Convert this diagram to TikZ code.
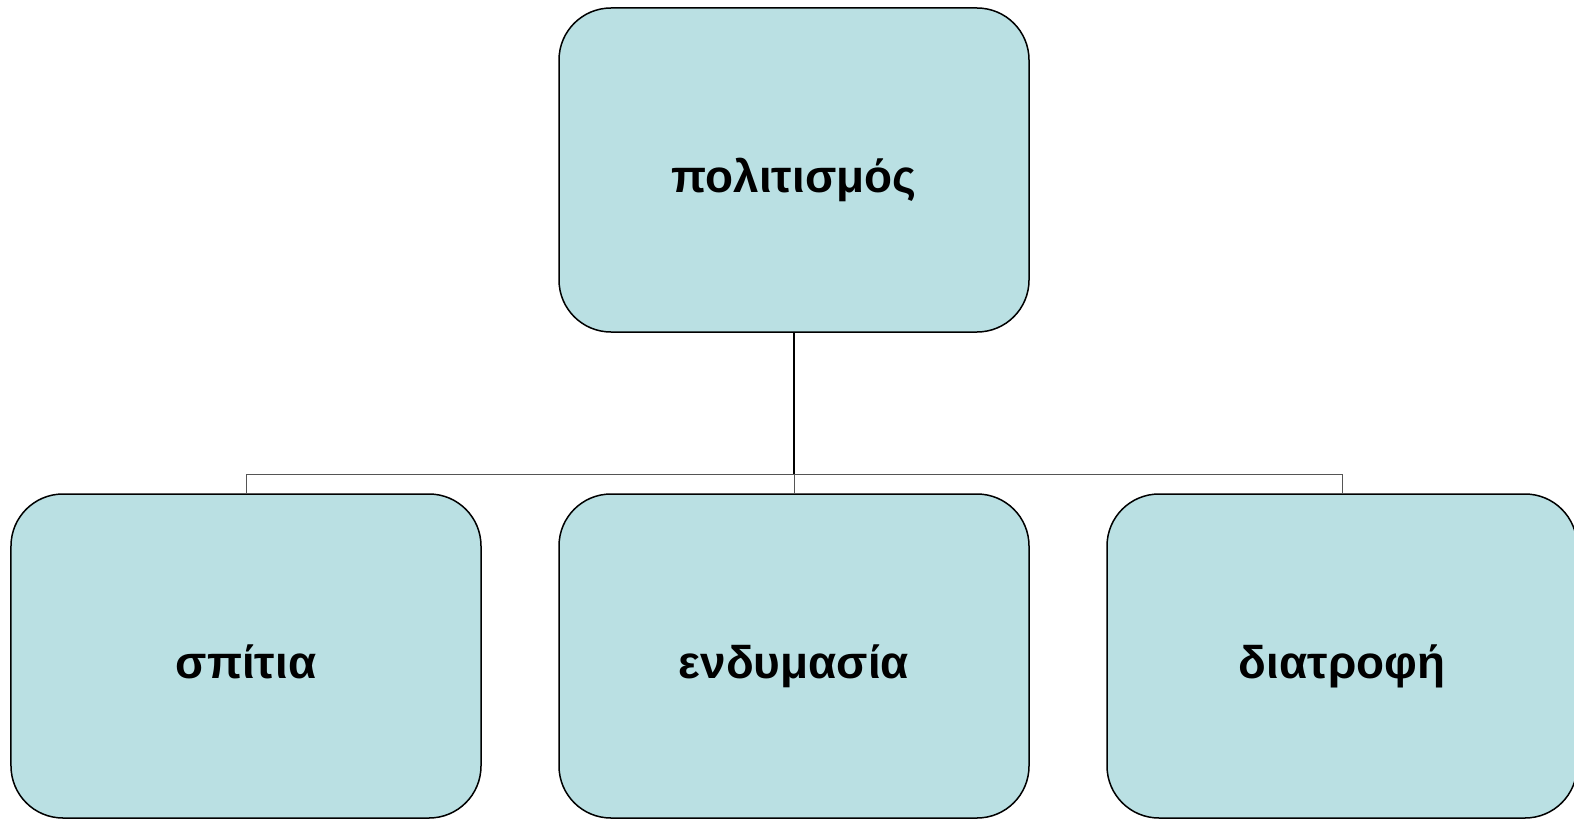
\documentclass[tikz,border=0pt]{standalone}
\usepackage{fontspec}
\setmainfont{Liberation Sans}
\definecolor{boxfill}{HTML}{BAE0E3}
\definecolor{linkgray}{HTML}{555555}
\newcommand{\cardtext}[1]{\raisebox{-22bp}[0pt][0pt]{#1}}
\begin{document}
\begin{tikzpicture}[x=1bp,y=-1bp,
  card/.style={draw=black, line width=1.5bp, fill=boxfill, rounded corners=52bp,
    minimum width=470bp, minimum height=324bp, inner sep=0pt,
    font=\fontsize{46}{50}\selectfont\bfseries, text=black},
  link/.style={draw=black, line width=1.2bp},
  thin/.style={draw=linkgray, line width=1bp}]
\useasboundingbox (0,0) rectangle (1574,819);
\node[card] (top) at (794,170) {\cardtext{πολιτισμός}};
\node[card] (left) at (246,656) {\cardtext{σπίτια}};
\node[card] (mid) at (794,656) {\cardtext{ενδυμασία}};
\node[card] (right) at (1342,656) {\cardtext{διατροφή}};
\coordinate (j) at (794,474);
\coordinate (jl) at (246,474);
\coordinate (jr) at (1342,474);
\draw[link] (top.south) -- (j);
\draw[thin] (j) -- (mid.north);
\draw[thin] (jl) -- (jr);
\draw[thin] (jl) -- (left.north);
\draw[thin] (jr) -- (right.north);
\end{tikzpicture}
\end{document}
